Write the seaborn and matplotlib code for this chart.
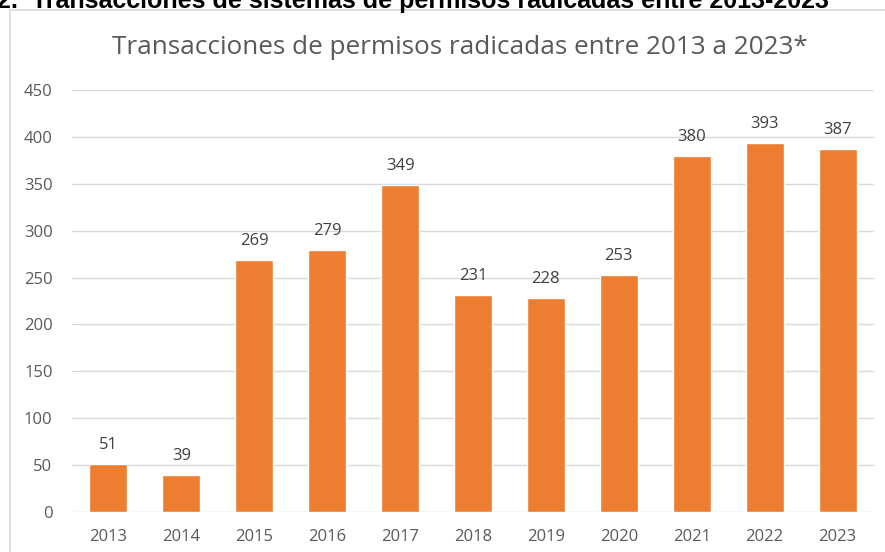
import matplotlib
matplotlib.use("Agg")
import matplotlib.pyplot as plt
import seaborn as sns
import pandas as pd
from matplotlib.patches import Rectangle

years = ["2013", "2014", "2015", "2016", "2017", "2018", "2019", "2020", "2021", "2022", "2023"]
transacciones = [51, 39, 269, 279, 349, 231, 228, 253, 380, 393, 387]
yticks = [0, 50, 100, 150, 200, 250, 300, 350, 400, 450]

df = pd.DataFrame({"year": years, "value": transacciones})

sns.set_theme(style="white")
plt.rcParams["font.family"] = ["Open Sans", "DejaVu Sans"]

fig = plt.figure(figsize=(8.85, 5.52), dpi=100)
ax = fig.add_axes([72 / 885, 1 - 512 / 552, 802 / 885, (512 - 90) / 552])

sns.barplot(data=df, x="year", y="value", color="#ED7D31", width=0.52,
            saturation=1, ax=ax, zorder=3)

ax.set_ylim(0, 450)
ax.set_xlim(-0.5, len(years) - 0.5)
ax.set_yticks(yticks)
ax.yaxis.grid(True, color="#D9D9D9", linewidth=1, zorder=0)
ax.set_axisbelow(True)
for s in ax.spines.values():
    s.set_visible(False)
ax.set_xlabel("")
ax.set_ylabel("")
ax.tick_params(axis="both", length=0, labelsize=12, labelcolor="#595959")
ax.tick_params(axis="y", pad=14)
ax.tick_params(axis="x", pad=12.5)

for i, v in enumerate(transacciones):
    ax.annotate(str(v), (i, v), xytext=(0, 8), textcoords="offset points",
                ha="center", va="bottom", fontsize=12, color="#404040")

fig.text(460 / 885, 1 - 47 / 552, "Transacciones de permisos radicadas entre 2013 a 2023*",
         ha="center", va="center", fontsize=18.8, color="#595959")

# chart frame
fig.patches.append(Rectangle((10 / 885, -0.1), 1.2, 1 - 10 / 552 + 0.1,
                             transform=fig.transFigure, fill=False,
                             edgecolor="#D9D9D9", linewidth=1.2))

# section heading above the chart
fig.text(-3 / 885, 1 - 8 / 552, "2.  Transacciones de sistemas de permisos radicadas entre 2013-2023",
         ha="left", va="baseline", fontsize=18, fontweight="bold", color="black",
         family=["Liberation Sans", "DejaVu Sans"])

fig.savefig("out.png", dpi=100)
